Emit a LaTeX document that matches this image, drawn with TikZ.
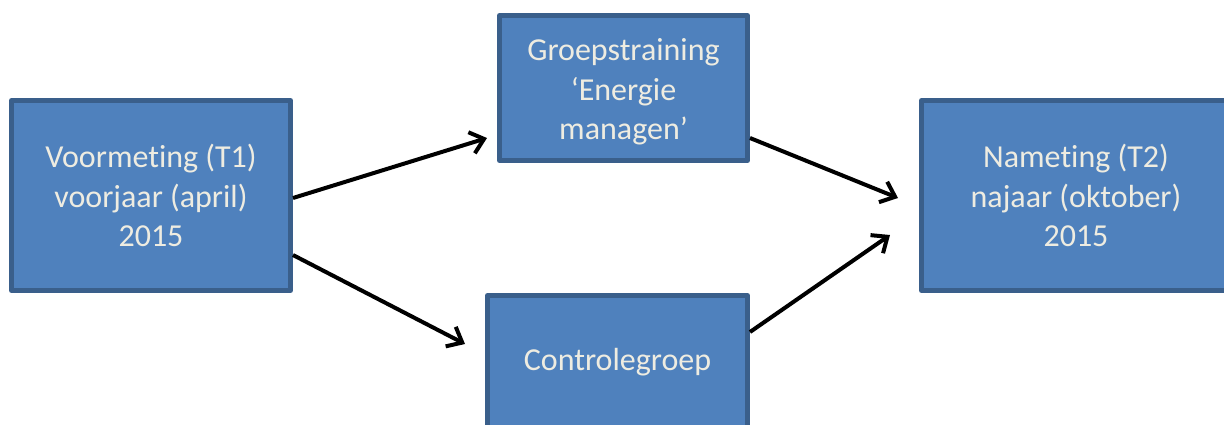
\documentclass[tikz,border=0pt]{standalone}
\usepackage{fontspec}
\setmainfont[Ligatures=NoCommon]{Carlito}
\usetikzlibrary{arrows.meta,calc}
\definecolor{boxfill}{HTML}{4F81BD}
\definecolor{boxline}{HTML}{3A5F8B}
\definecolor{boxtext}{HTML}{EEECE1}
\begin{document}
\begin{tikzpicture}[x=1pt,y=-1pt,
  stagebox/.style={rectangle, draw=boxline, fill=boxfill, line width=5pt, line join=round,
    text=boxtext, align=center, inner sep=0pt, font=\fontsize{32}{39.5}\selectfont},
  flow/.style={line width=4pt, -{Straight Barb[length=13pt,width=22pt,line width=4pt]}}]
\useasboundingbox (0,0) rectangle (1224,424);
\node[stagebox, minimum width=279pt, minimum height=190pt] (L) at (151,195.5)
  {Voormeting (T1)\\voorjaar (april)\\2015};
\node[stagebox, minimum width=248pt, minimum height=145pt] (T) at (623.5,88)
  {\rule{0pt}{30pt}Groepstraining\\‘Energie\\managen’};
\node[stagebox, minimum width=260pt, minimum height=133pt] (B) at (617.5,362)
  {Controlegroep};
\node[stagebox, minimum width=309pt, minimum height=190pt] (R) at (1076,195.5)
  {Nameting (T2)\\najaar (oktober)\\2015};
\draw[flow] ($(L.east)+(0,2.5)$) -- ($(T.west)+(-10,50)$);
\draw[flow] ($(L.east)+(0,59.5)$) -- ($(B.west)+(-20,-18)$);
\draw[flow] ($(T.east)+(0,50)$) -- ($(R.west)+(-21,2.5)$);
\draw[flow] ($(B.east)+(0,-30)$) -- ($(R.west)+(-29,39.5)$);
\end{tikzpicture}
\end{document}
